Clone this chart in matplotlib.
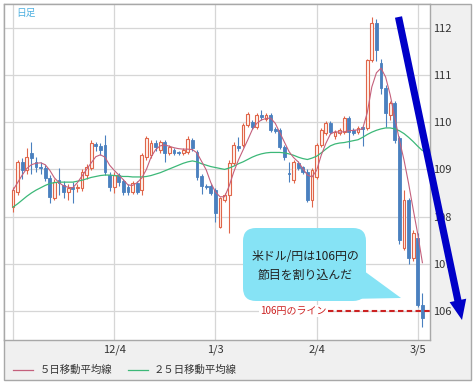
import matplotlib
matplotlib.use("Agg")
import matplotlib.pyplot as plt
import numpy as np
from matplotlib.patches import Rectangle, FancyBboxPatch, Polygon
from matplotlib.lines import Line2D
from matplotlib.transforms import Affine2D

plt.rcParams['font.family'] = ['Noto Sans CJK JP', 'DejaVu Sans']

# ---------------- data ----------------
opens = [108.20, 108.52, 109.15, 108.99, 109.35, 109.15, 109.05, 109.03, 108.82, 108.39,
         108.78, 108.67, 108.52, 108.62, 108.60, 108.61, 108.88, 109.03, 109.54, 109.50,
         109.52, 108.88, 108.63, 108.88, 108.75, 108.63, 108.52, 108.71, 108.56, 109.26,
         109.30, 109.56, 109.41, 109.58, 109.35, 109.41, 109.37, 109.35, 109.37, 109.63,
         109.37, 108.86, 108.65, 108.65, 108.56, 107.78, 108.35, 108.45, 109.14, 109.50,
         109.52, 109.94, 110.00, 109.90, 110.16, 110.07, 110.16, 109.86, 109.84, 109.48,
         108.92, 108.78, 109.14, 109.05, 108.95, 108.35, 108.84, 109.52, 109.77, 109.98,
         109.71, 109.77, 109.79, 110.10, 109.84, 109.79, 109.89, 109.88, 111.32, 112.11,
         111.26, 110.73, 110.15, 110.41, 109.67, 107.33, 108.35, 107.12, 107.55, 106.13]
highs = [108.62, 109.20, 109.24, 109.45, 109.58, 109.26, 109.15, 109.10, 108.88, 108.80,
         109.03, 108.75, 108.68, 108.73, 108.70, 109.00, 109.12, 109.62, 109.58, 109.55,
         109.72, 108.95, 108.95, 108.92, 108.80, 108.68, 108.76, 108.76, 109.35, 109.71,
         109.62, 109.62, 109.62, 109.62, 109.52, 109.45, 109.40, 109.45, 109.70, 109.67,
         109.41, 108.90, 108.70, 108.70, 108.60, 108.42, 108.50, 109.20, 109.58, 109.69,
         109.98, 110.22, 110.05, 110.20, 110.26, 110.20, 110.20, 109.90, 109.88, 109.52,
         109.16, 109.20, 109.18, 109.08, 109.00, 109.03, 109.56, 109.88, 110.02, 110.02,
         109.84, 109.88, 110.13, 110.14, 109.88, 109.92, 109.92, 111.35, 112.23, 112.20,
         111.35, 110.80, 110.45, 110.45, 109.70, 108.56, 108.40, 107.72, 107.65, 106.38]
lows = [108.10, 108.45, 108.80, 108.90, 108.90, 108.95, 108.90, 108.75, 108.29, 108.35,
        108.46, 108.40, 108.35, 108.29, 108.52, 108.55, 108.80, 108.98, 109.40, 109.30,
        108.88, 108.55, 108.50, 108.65, 108.45, 108.46, 108.47, 108.48, 108.46, 109.20,
        109.24, 109.40, 109.35, 109.16, 109.30, 109.30, 109.30, 109.30, 109.33, 109.40,
        108.78, 108.48, 108.58, 108.45, 107.89, 107.75, 108.30, 107.65, 109.10, 109.40,
        109.48, 109.90, 109.85, 109.86, 110.05, 110.02, 109.80, 109.78, 109.44, 109.20,
        108.73, 108.72, 108.98, 108.90, 108.30, 108.20, 108.80, 109.48, 109.73, 109.75,
        109.65, 109.73, 109.75, 109.45, 109.72, 109.75, 109.50, 109.84, 111.28, 111.30,
        110.60, 109.90, 110.05, 109.55, 107.42, 107.28, 107.00, 107.05, 106.08, 105.66]
closes = [108.56, 109.15, 108.98, 109.26, 109.25, 109.05, 109.03, 108.82, 108.42, 108.73,
          108.71, 108.52, 108.61, 108.58, 108.63, 108.95, 109.05, 109.56, 109.50, 109.41,
          108.95, 108.63, 108.88, 108.73, 108.52, 108.52, 108.71, 108.52, 109.31, 109.67,
          109.56, 109.48, 109.58, 109.35, 109.48, 109.35, 109.35, 109.41, 109.65, 109.45,
          108.84, 108.65, 108.62, 108.50, 108.08, 108.39, 108.45, 109.14, 109.52, 109.45,
          109.94, 110.18, 109.90, 110.16, 110.12, 110.16, 109.84, 109.82, 109.48, 109.26,
          108.90, 109.16, 109.03, 108.95, 108.35, 108.99, 109.52, 109.84, 109.98, 109.79,
          109.79, 109.84, 110.09, 109.79, 109.77, 109.88, 109.86, 111.32, 112.11, 111.53,
          110.73, 110.20, 110.41, 109.62, 107.50, 108.35, 107.12, 107.65, 106.13, 105.85]

ma5 = [108.56, 108.72, 108.88, 109.02, 109.10, 109.13, 109.14, 109.10, 108.98, 108.82,
       108.72, 108.65, 108.62, 108.61, 108.72, 108.86, 109.00, 109.14, 109.27, 109.31,
       109.26, 109.09, 108.98, 108.88, 108.78, 108.67, 108.66, 108.72, 108.82, 109.00,
       109.26, 109.42, 109.50, 109.52, 109.49, 109.46, 109.44, 109.43, 109.43, 109.42,
       109.35, 109.17, 108.99, 108.72, 108.52, 108.42, 108.42, 108.65, 108.95, 109.20,
       109.41, 109.62, 109.84, 109.98, 110.05, 110.08, 110.09, 109.98, 109.78, 109.58,
       109.38, 109.25, 109.16, 109.02, 108.88, 108.84, 108.98, 109.30, 109.55, 109.75,
       109.80, 109.79, 109.80, 109.82, 109.83, 109.84, 109.86, 110.20, 110.75, 111.05,
       111.15, 110.96, 110.58, 110.10, 109.62, 109.20, 108.70, 108.15, 107.62, 107.02]
ma25 = [108.20, 108.27, 108.35, 108.43, 108.50, 108.56, 108.61, 108.66, 108.70, 108.72,
        108.73, 108.73, 108.73, 108.73, 108.75, 108.77, 108.80, 108.83, 108.85, 108.87,
        108.88, 108.88, 108.87, 108.86, 108.85, 108.85, 108.84, 108.84, 108.84, 108.85,
        108.87, 108.90, 108.93, 108.97, 109.01, 109.05, 109.09, 109.13, 109.16, 109.18,
        109.16, 109.12, 109.09, 109.06, 109.04, 109.02, 109.00, 109.03, 109.07, 109.12,
        109.16, 109.21, 109.26, 109.30, 109.33, 109.35, 109.36, 109.36, 109.36, 109.35,
        109.33, 109.30, 109.26, 109.23, 109.21, 109.24, 109.28, 109.35, 109.43, 109.50,
        109.54, 109.56, 109.57, 109.59, 109.61, 109.63, 109.68, 109.74, 109.79, 109.83,
        109.86, 109.88, 109.88, 109.86, 109.82, 109.76, 109.68, 109.59, 109.49, 109.40]

date_ticks = [22, 44, 66, 88]
date_labels = ["12/4", "1/3", "2/4", "3/5"]
price_ticks = [106, 107, 108, 109, 110, 111, 112]
line_level = 106
ma5_label = "５日移動平均線"
ma25_label = "２５日移動平均線"
note_lines = ["米ドル/円は106円の", "節目を割り込んだ"]
level_label = "106円のライン"
period_label = "日足"

# ---------------- figure ----------------
W, H = 474, 384
fig = plt.figure(figsize=(W / 100, H / 100), dpi=100)
fig.patch.set_facecolor("white")
PX = Affine2D().scale(1.0 / W, -1.0 / H).translate(0, 1) + fig.transFigure

# outer gray panel with border
fig.add_artist(Rectangle((4, 4), 467, 376, transform=PX, facecolor="#f0f0f0",
                         edgecolor="#a8a8a8", lw=1.0, zorder=-5))

L, T, R, B = 4, 4, 430, 340
ax = fig.add_axes([L / W, 1 - B / H, (R - L) / W, (B - T) / H])
ax.set_facecolor("white")

x = np.arange(len(closes))
o = np.array(opens); c = np.array(closes); h = np.array(highs); lo = np.array(lows)
up = c >= o
red_edge = "#e0664a"
red_face = "#fff3ee"
blue = "#4a80bf"

# wicks
ax.vlines(x[up], lo[up], h[up], color=red_edge, lw=0.8, zorder=3)
ax.vlines(x[~up], lo[~up], h[~up], color=blue, lw=0.8, zorder=3)
# bodies
body_lo = np.minimum(o, c)
body_h = np.maximum(np.abs(c - o), 0.02)
ax.bar(x[up], body_h[up], bottom=body_lo[up], width=0.62, facecolor=red_face,
       edgecolor=red_edge, lw=0.8, zorder=4)
ax.bar(x[~up], body_h[~up], bottom=body_lo[~up], width=0.62, facecolor=blue,
       edgecolor=blue, lw=0.6, zorder=4)

# moving averages
ax.plot(x, ma25, color="#3cb878", lw=0.9, zorder=5)
ax.plot(x, ma5, color="#c4607c", lw=0.8, zorder=5)

# axes limits & grid
ax.set_xlim(-1.96, 90.65)
ax.set_ylim(105.38, 112.51)
for p in price_ticks:
    ax.axhline(p, color="#d6d6d6", lw=0.9, zorder=1)
for d in [0] + date_ticks:
    ax.axvline(d, color="#d6d6d6", lw=0.9, zorder=1)

ax.set_xticks(date_ticks)
ax.set_xticklabels(date_labels, fontsize=8, color="#333333")
ax.set_yticks(price_ticks)
ax.set_yticklabels([str(p) for p in price_ticks], fontsize=8, color="#333333")
ax.yaxis.tick_right()
ax.tick_params(axis="y", length=0, pad=2.5)
ax.tick_params(axis="x", length=0, pad=3)
for s in ax.spines.values():
    s.set_color("#a8a8a8")
    s.set_linewidth(1.0)

# 106 line and label
ax.hlines(line_level, 68.4, 90.65, color="#cc2222", lw=1.5,
          linestyles=(0, (2.6, 1.6)), zorder=6)
ax.text(68.2, line_level, level_label, ha="right", va="center", fontsize=7.2,
        color="#cc2222", zorder=6,
        bbox=dict(facecolor="white", edgecolor="none", pad=0.6))

# period label
fig.text(16 / W, 1 - 13 / H, period_label, fontsize=7, color="#4fb0e0",
         ha="left", va="center")

# callout bubble
bubble_c = "#86e3f5"
fig.add_artist(FancyBboxPatch((243, 228), 123, 73, transform=PX,
                              boxstyle="round,pad=0,rounding_size=13",
                              facecolor=bubble_c, edgecolor="none", zorder=3))
fig.add_artist(Polygon([(360, 268), (401, 298), (346, 299)], closed=True,
                       transform=PX, facecolor=bubble_c, edgecolor="none", zorder=3))
fig.text(305 / W, 1 - 257 / H, note_lines[0], fontsize=8.6, color="#222222",
         ha="center", va="center", zorder=4)
fig.text(305 / W, 1 - 275 / H, note_lines[1], fontsize=8.6, color="#222222",
         ha="center", va="center", zorder=4)

# big blue arrow
tip = np.array([462.0, 320.0])
start = np.array([398.5, 17.0])
d = (tip - start) / np.linalg.norm(tip - start)
perp = np.array([d[1], -d[0]])
base = tip - 20 * d
fig.add_artist(Line2D([start[0], base[0] + 2 * d[0]], [start[1], base[1] + 2 * d[1]],
                      transform=PX, color="#0000c8", lw=5.2,
                      solid_capstyle="butt", zorder=5))
fig.add_artist(Polygon([tuple(tip), tuple(base + 8.5 * perp), tuple(base - 8.5 * perp)],
                       closed=True, transform=PX, facecolor="#0000c8",
                       edgecolor="none", zorder=5))

# legend (bottom panel)
fig.add_artist(Line2D([13, 33], [370, 370], transform=PX, color="#c4607c", lw=0.9))
fig.text(40 / W, 1 - 370 / H, ma5_label, fontsize=7.5, color="#333333",
         ha="left", va="center")
fig.add_artist(Line2D([128, 148], [370, 370], transform=PX, color="#3cb878", lw=0.9))
fig.text(154 / W, 1 - 370 / H, ma25_label, fontsize=7.5, color="#333333",
         ha="left", va="center")

fig.savefig("out.png", dpi=100)
